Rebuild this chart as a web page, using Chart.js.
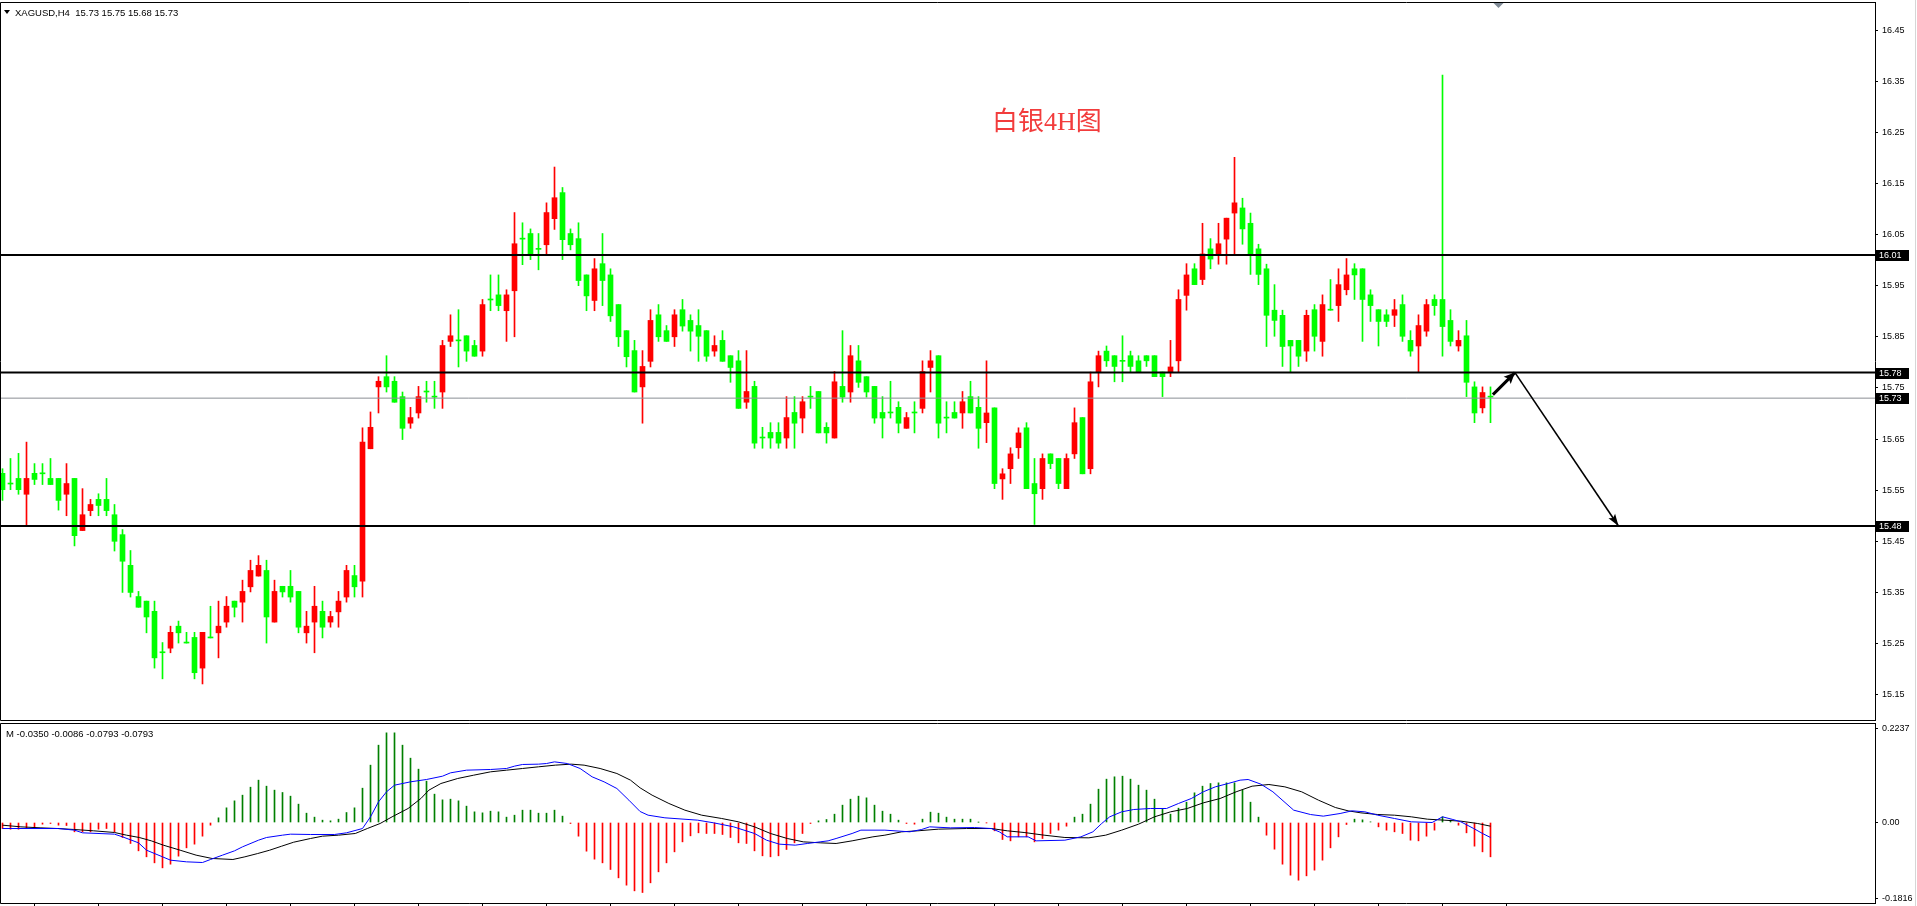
<!DOCTYPE html>
<html><head><meta charset="utf-8">
<script src="https://cdn.jsdelivr.net/npm/chart.js@4.4.1/dist/chart.umd.min.js"></script>
<style>
html,body{margin:0;padding:0;background:#fff;overflow:hidden;width:1917px;height:906px;}
#c1{position:absolute;left:0;top:0;}
#c2{position:absolute;left:0;top:722px;}
#edge{position:absolute;left:1915px;top:0;width:1px;height:906px;background:#d6d6d6;}
</style></head><body>
<canvas id="c1" width="1917" height="722"></canvas>
<canvas id="c2" width="1917" height="184"></canvas>
<div id="edge"></div>
<script>
// ---------------- data ----------------
const symbolLabel = 'XAGUSD,H4';
const headerValues = ['15.73', '15.75', '15.68', '15.73'];
const macdHeader = ['-0.0350', '-0.0086', '-0.0793', '-0.0793'];
const chartTitle = '白银4H图';

const openP = [
15.583,15.563,15.573,15.542,15.583,15.583,15.573,15.573,15.542,15.573,
15.471,15.510,15.532,15.532,15.502,15.463,15.403,15.342,15.333,15.313,
15.233,15.241,15.284,15.252,15.262,15.202,15.262,15.271,15.292,15.333,
15.331,15.361,15.382,15.393,15.292,15.362,15.362,15.352,15.271,15.292,
15.313,15.292,15.312,15.341,15.383,15.372,15.631,15.752,15.772,15.763,
15.733,15.681,15.701,15.743,15.733,15.742,15.841,15.843,15.852,15.833,
15.822,15.923,15.932,15.901,15.940,16.042,16.052,16.022,16.030,16.081,
16.132,16.052,16.042,15.971,15.921,15.993,15.971,15.913,15.862,15.823,
15.752,15.802,15.893,15.862,15.850,15.903,15.882,15.872,15.862,15.822,
15.843,15.813,15.803,15.722,15.753,15.653,15.663,15.663,15.652,15.702,
15.691,15.733,15.743,15.673,15.652,15.753,15.742,15.803,15.772,15.753,
15.702,15.702,15.712,15.671,15.702,15.710,15.790,15.813,15.692,15.702,
15.701,15.733,15.712,15.682,15.711,15.572,15.592,15.633,15.672,15.563,
15.553,15.621,15.612,15.553,15.621,15.692,15.592,15.781,15.822,15.813,
15.803,15.813,15.803,15.813,15.813,15.781,15.781,15.803,15.931,15.983,
15.962,16.022,16.012,16.041,16.092,16.102,16.072,16.022,15.983,15.902,
15.892,15.843,15.843,15.822,15.903,15.841,15.903,15.911,15.942,15.983,
15.983,15.932,15.903,15.893,15.892,15.913,15.843,15.832,15.861,15.923,
15.923,15.882,15.832,15.852,15.752,15.711,15.733];
const highP = [
15.592,15.612,15.622,15.644,15.602,15.602,15.612,15.573,15.602,15.573,
15.553,15.532,15.543,15.573,15.522,15.473,15.432,15.352,15.333,15.333,
15.252,15.284,15.294,15.272,15.272,15.272,15.323,15.333,15.342,15.333,
15.374,15.413,15.422,15.413,15.374,15.362,15.393,15.352,15.313,15.362,
15.333,15.313,15.352,15.403,15.403,15.672,15.703,15.772,15.813,15.772,
15.742,15.712,15.753,15.763,15.763,15.843,15.893,15.903,15.852,15.843,
15.923,15.971,15.971,15.942,16.093,16.073,16.061,16.052,16.112,16.182,
16.142,16.061,16.073,15.971,16.003,16.052,15.983,15.913,15.862,15.843,
15.823,15.903,15.913,15.872,15.903,15.923,15.893,15.903,15.862,15.852,
15.862,15.813,15.823,15.823,15.763,15.673,15.682,15.682,15.733,15.733,
15.733,15.753,15.743,15.682,15.782,15.862,15.833,15.833,15.772,15.753,
15.733,15.763,15.723,15.702,15.723,15.803,15.823,15.813,15.723,15.723,
15.743,15.763,15.733,15.803,15.711,15.592,15.633,15.672,15.682,15.612,
15.621,15.621,15.612,15.621,15.711,15.692,15.781,15.822,15.832,15.813,
15.852,15.822,15.813,15.813,15.813,15.781,15.843,15.942,15.993,15.993,
16.072,16.042,16.072,16.082,16.201,16.121,16.092,16.031,15.992,15.952,
15.902,15.843,15.843,15.902,15.913,15.932,15.962,15.983,16.003,15.993,
15.983,15.942,15.903,15.903,15.923,15.932,15.862,15.893,15.923,15.932,
16.362,15.903,15.862,15.882,15.762,15.752,15.752];
const lowP = [
15.530,15.551,15.542,15.481,15.561,15.561,15.561,15.511,15.500,15.441,
15.471,15.500,15.500,15.500,15.431,15.350,15.341,15.321,15.271,15.202,
15.181,15.232,15.251,15.251,15.181,15.171,15.261,15.222,15.282,15.302,
15.292,15.351,15.382,15.251,15.292,15.341,15.331,15.271,15.251,15.232,
15.261,15.282,15.282,15.331,15.341,15.341,15.631,15.701,15.742,15.722,
15.649,15.671,15.691,15.722,15.710,15.710,15.831,15.791,15.802,15.812,
15.812,15.901,15.901,15.841,15.850,15.991,16.001,15.981,16.011,16.060,
16.001,16.020,15.950,15.901,15.901,15.911,15.880,15.831,15.791,15.742,
15.681,15.791,15.841,15.841,15.831,15.861,15.822,15.802,15.802,15.812,
15.802,15.761,15.710,15.710,15.632,15.632,15.632,15.632,15.632,15.632,
15.662,15.710,15.662,15.642,15.652,15.722,15.722,15.751,15.732,15.681,
15.652,15.691,15.662,15.671,15.662,15.701,15.742,15.652,15.662,15.691,
15.671,15.701,15.632,15.643,15.553,15.532,15.563,15.612,15.553,15.483,
15.532,15.592,15.553,15.553,15.612,15.582,15.582,15.752,15.792,15.762,
15.762,15.781,15.781,15.792,15.772,15.733,15.772,15.781,15.902,15.952,
15.952,15.983,15.992,15.992,16.012,16.031,15.972,15.952,15.831,15.851,
15.792,15.781,15.792,15.802,15.822,15.812,15.902,15.880,15.932,15.923,
15.841,15.880,15.832,15.870,15.870,15.841,15.812,15.781,15.851,15.892,
15.812,15.832,15.822,15.733,15.682,15.701,15.682];
const closeP = [
15.551,15.562,15.551,15.573,15.571,15.582,15.561,15.530,15.563,15.461,
15.502,15.522,15.520,15.510,15.450,15.411,15.350,15.321,15.302,15.222,
15.232,15.272,15.271,15.251,15.193,15.272,15.261,15.284,15.323,15.321,
15.352,15.393,15.403,15.302,15.352,15.351,15.341,15.282,15.284,15.323,
15.282,15.303,15.333,15.393,15.361,15.644,15.673,15.763,15.752,15.722,
15.671,15.692,15.733,15.742,15.732,15.833,15.852,15.842,15.822,15.812,
15.913,15.922,15.911,15.932,16.032,16.041,16.011,16.021,16.093,16.122,
16.040,16.030,15.960,15.930,15.983,15.960,15.891,15.850,15.811,15.742,
15.792,15.882,15.850,15.841,15.893,15.871,15.861,15.851,15.812,15.833,
15.802,15.790,15.710,15.743,15.642,15.652,15.652,15.642,15.692,15.681,
15.723,15.732,15.662,15.662,15.762,15.732,15.813,15.761,15.742,15.691,
15.691,15.701,15.681,15.692,15.701,15.782,15.803,15.681,15.691,15.691,
15.723,15.701,15.671,15.701,15.563,15.582,15.621,15.662,15.553,15.543,
15.612,15.602,15.563,15.612,15.682,15.582,15.762,15.813,15.803,15.792,
15.802,15.792,15.781,15.803,15.772,15.772,15.791,15.923,15.971,15.952,
16.012,16.002,16.032,16.082,16.112,16.061,16.012,15.972,15.892,15.882,
15.831,15.832,15.812,15.892,15.851,15.913,15.902,15.952,15.971,15.971,
15.923,15.911,15.880,15.880,15.903,15.851,15.822,15.872,15.913,15.911,
15.870,15.841,15.843,15.761,15.701,15.741,15.732];

const macdHist = [
-0.0144,-0.016,-0.016,-0.0144,-0.012,-0.004,-0.0024,-0.0064,-0.0072,-0.0223,
-0.0223,-0.0223,-0.016,-0.0144,-0.0223,-0.0359,-0.0502,-0.0678,-0.0821,-0.0965,
-0.1085,-0.0997,-0.0805,-0.0606,-0.0518,-0.0327,-0.0064,0.0112,0.0351,0.0518,
0.0654,0.0845,0.1013,0.0869,0.0774,0.0718,0.063,0.0439,0.0223,0.0128,
0.0056,0.004,0.008,0.0239,0.0351,0.0821,0.1372,0.185,0.2145,0.2145,
0.185,0.1539,0.1276,0.0989,0.0678,0.0542,0.0558,0.0518,0.0391,0.0255,
0.0231,0.0271,0.0255,0.0128,0.0175,0.0295,0.0295,0.0223,0.0223,0.0295,
0.0152,-0.0024,-0.0327,-0.0686,-0.0877,-0.0965,-0.1124,-0.1324,-0.1499,-0.1635,
-0.1675,-0.1443,-0.118,-0.0965,-0.0702,-0.0463,-0.0319,-0.0247,-0.0263,-0.0263,
-0.0287,-0.0359,-0.0486,-0.0502,-0.0678,-0.0797,-0.0821,-0.0797,-0.0646,-0.0486,
-0.0263,-0.0024,0.004,0.0072,0.0199,0.0415,0.0558,0.063,0.059,0.0415,
0.0271,0.0199,0.0056,-0.0024,-0.004,0.008,0.0247,0.0223,0.0128,0.008,
0.008,0.008,0.0005,-0.0005,-0.0199,-0.0407,-0.0439,-0.0343,-0.0343,-0.0463,
-0.0383,-0.0263,-0.0183,-0.0088,0.0128,0.0199,0.0439,0.0797,0.1037,0.1093,
0.1108,0.1037,0.0893,0.0774,0.0558,0.0319,0.0199,0.0343,0.0486,0.071,
0.0869,0.0933,0.0949,0.0949,0.0949,0.0774,0.0486,0.0128,-0.0303,-0.0638,
-0.0997,-0.126,-0.138,-0.1276,-0.114,-0.0901,-0.0606,-0.0343,-0.0048,0.008,
0.0064,0.0016,-0.0104,-0.0183,-0.0223,-0.0263,-0.0423,-0.0439,-0.0327,-0.0183,
0.0136,0.0056,-0.0064,-0.0247,-0.0566,-0.0702,-0.0821];

const macdLine = [[0,-0.0144],[7,-0.0144],[9,-0.0183],[10,-0.0247],[14,-0.0279],[15,-0.0343],[17,-0.0486],[18,-0.0662],[20,-0.0821],[21,-0.0901],[23,-0.0941],[25,-0.0957],[26,-0.0885],[27.5,-0.0781],[29,-0.0678],[30,-0.0582],[32,-0.0423],[33,-0.0359],[35,-0.0303],[36,-0.0279],[38.5,-0.0287],[41.5,-0.0287],[43,-0.0247],[45,-0.0144],[46,0.0136],[47,0.0494],[48,0.0734],[49,0.0893],[51,0.0973],[53,0.1029],[55,0.1108],[56,0.1188],[58,0.1252],[61,0.1268],[63,0.1292],[64,0.1348],[65,0.1388],[67,0.1396],[68,0.1411],[69,0.1451],[70.6,0.1411],[72.2,0.1292],[73.7,0.1093],[75.2,0.0973],[76.8,0.0813],[78.3,0.0534],[79.7,0.0263],[80.7,0.0175],[82.8,0.0112],[86.9,0.0056],[88.9,-0.0008],[91.4,-0.0104],[94,-0.0263],[95.5,-0.0423],[97.1,-0.0518],[99.1,-0.0542],[100.6,-0.0502],[102.2,-0.0463],[103.2,-0.0439],[104.2,-0.0383],[106.2,-0.0263],[107.3,-0.0183],[110.3,-0.0183],[113.4,-0.0223],[114.9,-0.0167],[115.9,-0.0104],[118.5,-0.0128],[121.5,-0.012],[123.6,-0.0144],[124.6,-0.0223],[125.6,-0.0343],[128.2,-0.0343],[129.2,-0.0439],[132.8,-0.0423],[134.8,-0.0343],[136.3,-0.0223],[137.4,-0.0024],[138.4,0.0136],[139.9,0.0255],[141.4,0.0311],[143.5,0.0335],[145.5,0.0335],[147,0.0455],[148.6,0.0574],[150.1,0.0734],[151.6,0.0853],[153.2,0.0933],[154.7,0.1013],[155.7,0.1029],[157.3,0.0917],[158.8,0.0734],[161.4,0.0295],[163.5,0.0191],[165.1,0.0152],[167.2,0.0215],[168.7,0.0279],[170.3,0.0255],[171.9,0.0175],[174,0.0096],[176.1,0.0016],[178.7,0],[180,0.0136],[181.3,0.0072],[182.3,0.0016],[183.9,-0.0144],[185,-0.0263],[186,-0.0359]];
const signalLine = [[0,-0.0064],[2.3,-0.0104],[4.8,-0.0128],[6.9,-0.0144],[8.9,-0.0167],[11.4,-0.0199],[14,-0.0239],[15.5,-0.0303],[17.1,-0.0359],[18.6,-0.0439],[20.1,-0.0542],[22.2,-0.0662],[24.2,-0.0781],[26.2,-0.0861],[28.8,-0.0885],[30.3,-0.0821],[31.9,-0.0742],[33.4,-0.0662],[34.9,-0.0566],[36.4,-0.0471],[38.5,-0.0383],[40,-0.0327],[42,-0.0303],[44.1,-0.0263],[45.6,-0.0144],[47.2,-0.0024],[48.7,0.0136],[50.7,0.0335],[52.3,0.0574],[53.3,0.0774],[54.8,0.0933],[56.9,0.1053],[58.9,0.1132],[61,0.1212],[63,0.1252],[65,0.1292],[67,0.1332],[69.1,0.1372],[71.1,0.1396],[72.7,0.1372],[74.7,0.1292],[76.8,0.1172],[78.5,0.1013],[79.7,0.0829],[81.2,0.0654],[83.3,0.0455],[85.3,0.0295],[87.4,0.0175],[89.9,0.0096],[92,0.0016],[94,-0.0104],[96,-0.0263],[98.1,-0.0383],[100.1,-0.0463],[102.2,-0.0486],[104.2,-0.0502],[106.2,-0.0439],[108.8,-0.0343],[110.3,-0.0303],[112.4,-0.0223],[114.4,-0.0199],[117,-0.0159],[120.5,-0.0144],[123.6,-0.0144],[125.6,-0.0199],[127.7,-0.0239],[130.2,-0.0303],[132.8,-0.0359],[135.8,-0.0367],[137.9,-0.0303],[139.9,-0.0183],[142,-0.004],[144,0.0136],[146,0.0255],[148.1,0.0335],[150.1,0.047],[152.2,0.0574],[154.2,0.0734],[156.2,0.0869],[158.3,0.0909],[160.3,0.0853],[162.4,0.0734],[164.5,0.0534],[166.6,0.0359],[168.2,0.0279],[169.8,0.0231],[171.9,0.0191],[174,0.0175],[176.1,0.0136],[178.1,0.008],[180.2,0.0056],[182.3,0.0032],[184.4,-0.0024],[186,-0.0088]];

const priceTicks = [16.45,16.35,16.25,16.15,16.05,15.95,15.85,15.75,15.65,15.55,15.45,15.35,15.25,15.15];
const macdTicks = [0.2237, 0, -0.1816];
const macdTickLabels = ['0.2237', '0.00', '-0.1816'];
const timeTickBars = [0,8,16,24,32,40,48,56,64,72,80,88,96,104,112,120,128,136,144,152,160,168,176,184];
const levels = [16.01, 15.78, 15.48];
const bidPrice = 15.73;
const arrowUp = [[186.3, 15.737], [189.06, 15.78]];
const arrowDown = [[189.06, 15.78], [202.0, 15.48]];

// ---------------- layout / style ----------------
const BAR_PX = 8, X0 = 2.5, AREA_R = 1875, AXIS_W = 1917 - AREA_R;
const xMin = -X0 / BAR_PX, xMax = xMin + AREA_R / BAR_PX;
const UP = '#ff0000', DN = '#00ff00';
const FONT = '"Liberation Sans", Arial, sans-serif';
Chart.defaults.font.family = FONT;
Chart.defaults.color = '#000';

const idx = openP.map((_, i) => i);
const candleColor = idx.map(i => closeP[i] > openP[i] ? UP : DN);

const levelSets = levels.map(v => ({
  type: 'line', data: [{x: xMin, y: v}, {x: xMax, y: v}],
  borderColor: '#000', borderWidth: 2, pointRadius: 0, order: 2
}));

const fitY = s => { s.width = AXIS_W; s.paddingTop = 0; s.paddingBottom = 0; };

const mainDecor = {
  id: 'mainDecor',
  afterDatasetsDraw(chart) {
    const ctx = chart.ctx;
    chart.data.datasets.forEach((ds, k) => {
      if (!ds.arrowHead) return;
      const pts = chart.getDatasetMeta(k).data;
      const p1 = pts[pts.length - 2], p2 = pts[pts.length - 1];
      const ang = Math.atan2(p2.y - p1.y, p2.x - p1.x);
      const L = ds.arrowHead[0], W = ds.arrowHead[1];
      ctx.save();
      ctx.fillStyle = '#000';
      ctx.translate(p2.x, p2.y); ctx.rotate(ang);
      ctx.beginPath(); ctx.moveTo(0, 0); ctx.lineTo(-L, W); ctx.lineTo(-L * 0.8, 0); ctx.lineTo(-L, -W); ctx.closePath(); ctx.fill();
      ctx.restore();
    });
  },
  afterDraw(chart) {
    const ctx = chart.ctx, a = chart.chartArea, ys = chart.scales.y, xs = chart.scales.x;
    ctx.save();
    ctx.strokeStyle = '#000'; ctx.lineWidth = 1;
    ctx.beginPath();
    ctx.moveTo(a.right, a.top + 0.5); ctx.lineTo(0.5, a.top + 0.5);
    ctx.lineTo(0.5, a.bottom + 0.5); ctx.lineTo(a.right, a.bottom + 0.5);
    ctx.stroke();
    // level price boxes
    ctx.font = '9px ' + FONT; ctx.textBaseline = 'middle'; ctx.textAlign = 'left';
    [...levels, bidPrice].forEach(v => {
      const y = Math.round(ys.getPixelForValue(v));
      ctx.fillStyle = '#000'; ctx.fillRect(a.right + 1, y - 5, 33, 11);
      ctx.fillStyle = '#fff'; ctx.fillText(v.toFixed(2), a.right + 4, y + 0.5);
    });
    // header
    ctx.fillStyle = '#000';
    ctx.beginPath(); ctx.moveTo(4, 10); ctx.lineTo(10, 10); ctx.lineTo(7, 14); ctx.closePath(); ctx.fill();
    ctx.font = '9.5px ' + FONT;
    ctx.fillText(symbolLabel + '  ' + headerValues.join(' '), 15, 13);
    // chart shift marker
    const mx = xs.getPixelForValue(openP.length);
    ctx.fillStyle = '#7f8a96';
    ctx.beginPath(); ctx.moveTo(mx - 5, a.top + 1); ctx.lineTo(mx + 5, a.top + 1); ctx.lineTo(mx, a.top + 6); ctx.closePath(); ctx.fill();
    // title
    ctx.fillStyle = '#f23c3c';
    ctx.textBaseline = 'alphabetic';
    ctx.font = '26px "Liberation Serif", "Noto Sans CJK SC", serif';
    ctx.fillText(chartTitle, 992, 130);
    ctx.restore();
  }
};

new Chart(document.getElementById('c1'), {
  type: 'bar',
  data: {
    datasets: [
      { data: idx.map(i => ({x: i, y: [lowP[i], highP[i]]})), backgroundColor: candleColor,
        barThickness: 1, grouped: false, minBarLength: 1, order: 6 },
      { data: idx.map(i => ({x: i, y: [openP[i], closeP[i]]})), backgroundColor: candleColor,
        barThickness: 5, grouped: false, minBarLength: 1, order: 5 },
      { type: 'line', data: [{x: xMin, y: bidPrice}, {x: xMax, y: bidPrice}],
        borderColor: '#8a8e94', borderWidth: 1, pointRadius: 0, order: 3 },
      ...levelSets,
      { type: 'line', data: arrowUp.map(p => ({x: p[0], y: p[1]})), borderColor: '#000',
        borderWidth: 3, pointRadius: 0, order: 1, arrowHead: [11, 5] },
      { type: 'line', data: arrowDown.map(p => ({x: p[0], y: p[1]})), borderColor: '#000',
        borderWidth: 1.6, pointRadius: 0, order: 1, arrowHead: [12, 4] }
    ]
  },
  options: {
    responsive: false, animation: false, devicePixelRatio: 1,
    layout: { padding: { top: 2, bottom: 2, left: 0, right: 0 } },
    plugins: { legend: { display: false }, tooltip: { enabled: false } },
    scales: {
      x: { type: 'linear', min: xMin, max: xMax, display: false, offset: false },
      y: {
        position: 'right', min: 15.1005, max: 16.5048,
        afterBuildTicks: s => { s.ticks = priceTicks.map(v => ({value: v})); },
        afterFit: fitY,
        ticks: { autoSkip: false, padding: 4, color: '#000', font: {size: 9}, callback: v => v.toFixed(2) },
        grid: { drawOnChartArea: false, drawTicks: true, tickLength: 3, color: '#000' },
        border: { display: true, color: '#000', width: 1 }
      }
    }
  },
  plugins: [mainDecor]
});

const macdDecor = {
  id: 'macdDecor',
  afterDraw(chart) {
    const ctx = chart.ctx, a = chart.chartArea;
    ctx.save();
    ctx.strokeStyle = '#000'; ctx.lineWidth = 1;
    ctx.beginPath();
    ctx.moveTo(a.right, a.top + 0.5); ctx.lineTo(0.5, a.top + 0.5);
    ctx.lineTo(0.5, a.bottom + 0.5); ctx.lineTo(a.right, a.bottom + 0.5);
    ctx.stroke();
    ctx.fillStyle = '#000'; ctx.font = '9.5px ' + FONT; ctx.textBaseline = 'middle';
    ctx.fillText('M ' + macdHeader.join(' '), 6, 12);
    ctx.restore();
  }
};

new Chart(document.getElementById('c2'), {
  type: 'bar',
  data: {
    datasets: [
      { type: 'line', data: macdLine.map(p => ({x: p[0], y: p[1]})), borderColor: '#0000ff',
        borderWidth: 1, pointRadius: 0, tension: 0, order: 1 },
      { type: 'line', data: signalLine.map(p => ({x: p[0], y: p[1]})), borderColor: '#000',
        borderWidth: 1, pointRadius: 0, tension: 0, order: 2 },
      { data: idx.map(i => ({x: i, y: macdHist[i]})),
        backgroundColor: macdHist.map(v => v >= 0 ? '#008000' : '#ff0000'),
        barThickness: 1, grouped: false, order: 3 }
    ]
  },
  options: {
    responsive: false, animation: false, devicePixelRatio: 1,
    layout: { padding: { top: 1, bottom: 0, left: 0, right: 0 } },
    plugins: { legend: { display: false }, tooltip: { enabled: false } },
    scales: {
      x: {
        type: 'linear', min: xMin, max: xMax, offset: false, position: 'bottom',
        afterBuildTicks: s => { s.ticks = timeTickBars.map(v => ({value: v})); },
        afterFit: s => { s.height = 3; s.paddingLeft = 0; s.paddingRight = 0; },
        ticks: { display: false },
        grid: { drawOnChartArea: false, drawTicks: true, tickLength: 3, color: '#000' },
        border: { display: false }
      },
      y: {
        position: 'right', min: -0.19258, max: 0.23804,
        afterBuildTicks: s => { s.ticks = macdTicks.map(v => ({value: v})); },
        afterFit: fitY,
        ticks: { autoSkip: false, padding: 4, color: '#000', font: {size: 9},
                 callback: (v, i) => macdTickLabels[i] },
        grid: { drawOnChartArea: false, drawTicks: true, tickLength: 3, color: '#000' },
        border: { display: true, color: '#000', width: 1 }
      }
    }
  },
  plugins: [macdDecor]
});
</script>
</body></html>
